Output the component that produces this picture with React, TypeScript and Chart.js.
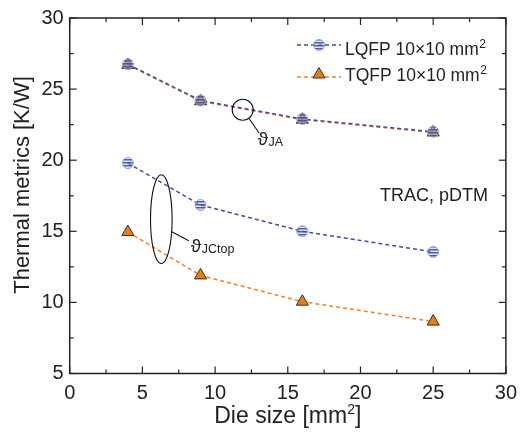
import React, { useEffect, useRef } from 'react';
import { Chart, registerables } from 'chart.js';
Chart.register(...registerables);

const dieSizes = [4, 9, 16, 25];
const lqfpJA = [26.75, 24.2, 22.9, 22.0];
const tqfpJA = [26.7, 24.15, 22.85, 21.95];
const lqfpJCtop = [19.8, 16.85, 15.0, 13.55];
const tqfpJCtop = [14.95, 11.9, 10.05, 8.65];
const seriesNames = ['LQFP 10×10 mm', 'TQFP 10×10 mm'];
const xTitle = 'Die size [mm';
const yTitle = 'Thermal metrics [K/W]';
const noteText = 'TRAC, pDTM';

const FONT = '"Liberation Sans", Arial, "DejaVu Sans", sans-serif';
const BLUE = '#3f4ea3';
const ORANGE = '#f5821f';
const TRI_FILL = '#f07d0a';
const TEXT = '#222';

function makePattern(): CanvasPattern | string {
  const c = document.createElement('canvas');
  c.width = 3; c.height = 3;
  const g = c.getContext('2d');
  if (!g) return BLUE;
  g.fillStyle = 'rgba(185,195,235,0.4)';
  g.fillRect(0, 0, 3, 3);
  g.fillStyle = 'rgba(60,78,170,0.9)';
  g.fillRect(0, 0, 3, 1.5);
  const p = g.createPattern(c, 'repeat');
  return p || BLUE;
}

const pts = (ys: number[]) => dieSizes.map((x, i) => ({ x, y: ys[i] }));

const decorPlugin = {
  id: 'decor',
  afterDraw(chart: any) {
    const { ctx, chartArea: a, scales } = chart;
    const xs = scales.x, ys = scales.y;
    ctx.save();
    ctx.strokeStyle = TEXT;
    ctx.lineWidth = 1.5;
    ctx.strokeRect(a.left, a.top, a.right - a.left, a.bottom - a.top);
    ctx.lineWidth = 1.2;
    const line = (x1: number, y1: number, x2: number, y2: number) => {
      ctx.beginPath(); ctx.moveTo(x1, y1); ctx.lineTo(x2, y2); ctx.stroke();
    };
    for (let v = 0; v <= 30; v += 2.5) {
      const px = xs.getPixelForValue(v);
      const len = v % 5 === 0 ? 7 : 4;
      line(px, a.bottom, px, a.bottom - len);
      line(px, a.top, px, a.top + len);
    }
    for (let v = 5; v <= 30; v += 2.5) {
      const py = ys.getPixelForValue(v);
      const len = v % 5 === 0 ? 7 : 4;
      line(a.left, py, a.left + len, py);
      line(a.right, py, a.right - len, py);
    }
    ctx.fillStyle = TEXT;
    ctx.textBaseline = 'alphabetic';
    ctx.font = `23px ${FONT}`;
    const w1 = ctx.measureText(xTitle).width;
    ctx.font = `14px ${FONT}`;
    const w2 = ctx.measureText('2').width;
    ctx.font = `23px ${FONT}`;
    const w3 = ctx.measureText(']').width;
    const cx = (a.left + a.right) / 2;
    const sx = cx - (w1 + w2 + w3) / 2;
    const by = 423;
    ctx.textAlign = 'left';
    ctx.fillText(xTitle, sx, by);
    ctx.font = `14px ${FONT}`;
    ctx.fillText('2', sx + w1, by - 9);
    ctx.font = `23px ${FONT}`;
    ctx.fillText(']', sx + w1 + w2, by);
    ctx.save();
    ctx.translate(29, 185);
    ctx.rotate(-Math.PI / 2);
    ctx.font = `22px ${FONT}`;
    ctx.textAlign = 'center';
    ctx.fillText(yTitle, 0, 0);
    ctx.restore();
    ctx.font = `18px ${FONT}`;
    ctx.textAlign = 'left';
    ctx.fillText(noteText, 380, 201);
    const legendRows = [
      { name: seriesNames[0], color: BLUE, y: 45, tb: 55, marker: 'circle' },
      { name: seriesNames[1], color: ORANGE, y: 77, tb: 81, marker: 'triangle' },
    ];
    legendRows.forEach((r) => {
      ctx.strokeStyle = r.color;
      ctx.lineWidth = 1.5;
      ctx.setLineDash([4, 3]);
      line(297, r.y, 341, r.y);
      ctx.setLineDash([]);
      if (r.marker === 'circle') {
        ctx.beginPath();
        ctx.arc(319, r.y, 5.5, 0, Math.PI * 2);
        ctx.fillStyle = (chart as any)._stripe || BLUE;
        ctx.fill();
        ctx.strokeStyle = 'rgba(150,160,215,0.9)';
        ctx.lineWidth = 1;
        ctx.stroke();
      } else {
        const R = 7, cy = r.y - 2.5;
        ctx.beginPath();
        ctx.moveTo(319, cy - R);
        ctx.lineTo(319 + R * Math.sin((2 * Math.PI) / 3), cy + R / 2);
        ctx.lineTo(319 - R * Math.sin((2 * Math.PI) / 3), cy + R / 2);
        ctx.closePath();
        ctx.fillStyle = TRI_FILL;
        ctx.fill();
        ctx.strokeStyle = '#333';
        ctx.lineWidth = 1;
        ctx.stroke();
      }
      ctx.fillStyle = TEXT;
      ctx.font = `17.5px ${FONT}`;
      ctx.fillText(r.name, 345, r.tb);
      const tw = ctx.measureText(r.name).width;
      ctx.font = `12px ${FONT}`;
      ctx.fillText('2', 345 + tw + 0.5, r.tb - 7);
    });
    ctx.strokeStyle = '#111';
    ctx.lineWidth = 1.1;
    const jx = xs.getPixelForValue(11.9), jy = ys.getPixelForValue(23.55);
    ctx.beginPath(); ctx.arc(jx, jy, 10.5, 0, Math.PI * 2); ctx.stroke();
    line(jx + 6.5, jy + 9, jx + 16.5, jy + 23.5);
    const ex = xs.getPixelForValue(6.3), ey = ys.getPixelForValue(15.85);
    ctx.beginPath(); ctx.ellipse(ex, ey, 10.8, 44.5, 0, 0, Math.PI * 2); ctx.stroke();
    line(ex + 10.5, ey + 12.5, ex + 27.5, ey + 21.5);
    ctx.fillStyle = TEXT;
    const sym = (x: number, y: number, sub: string) => {
      ctx.font = `19px ${FONT}`;
      ctx.fillText('ϑ', x, y);
      const w = ctx.measureText('ϑ').width;
      ctx.font = `12.5px ${FONT}`;
      ctx.fillText(sub, x + w + 0.5, y + 1);
    };
    sym(jx + 15, jy + 35, 'JA');
    sym(ex + 29.5, ey + 33, 'JCtop');
    ctx.restore();
  },
};

export default function App() {
  const ref = useRef<HTMLCanvasElement>(null);
  useEffect(() => {
    document.body.style.margin = '0';
    if (!ref.current) return;
    const stripe = makePattern();
    const common = { borderWidth: 1.5, borderDash: [4, 3], fill: false, tension: 0 };
    const lq = {
      ...common,
      borderColor: BLUE,
      pointStyle: 'circle',
      pointRadius: 5.5,
      pointBackgroundColor: stripe,
      pointBorderColor: 'rgba(150,160,215,0.9)',
      pointBorderWidth: 1,
    };
    const tq = {
      ...common,
      borderColor: ORANGE,
      pointStyle: 'triangle',
      pointRadius: 7,
      pointBackgroundColor: TRI_FILL,
      pointBorderColor: '#333',
      pointBorderWidth: 1,
    };
    const chart = new Chart(ref.current, {
      type: 'line',
      data: {
        datasets: [
          { ...lq, label: seriesNames[0], data: pts(lqfpJA) },
          { ...lq, label: seriesNames[0], data: pts(lqfpJCtop) },
          { ...tq, label: seriesNames[1], data: pts(tqfpJA) },
          { ...tq, label: seriesNames[1], data: pts(tqfpJCtop) },
        ] as any,
      },
      options: {
        animation: false,
        responsive: false,
        layout: { padding: { top: 16, right: 13.3, left: 0, bottom: 0 } },
        plugins: { legend: { display: false }, tooltip: { enabled: false } },
        scales: {
          x: {
            type: 'linear',
            min: 0,
            max: 30,
            grid: { display: false, drawTicks: false },
            border: { display: false },
            ticks: { stepSize: 5, padding: 8, color: TEXT, font: { family: FONT, size: 20 } },
            afterFit: (s: any) => { s.height = 60.5; },
          },
          y: {
            type: 'linear',
            min: 5,
            max: 30,
            grid: { display: false, drawTicks: false },
            border: { display: false },
            ticks: { stepSize: 5, padding: 6, color: TEXT, font: { family: FONT, size: 20 } },
            afterFit: (s: any) => { s.width = 69.7; },
          },
        },
      } as any,
      plugins: [decorPlugin],
    });
    (chart as any)._stripe = stripe;
    chart.draw();
    return () => chart.destroy();
  }, []);
  return (
    <div style={{ width: 525, height: 434 }}>
      <canvas ref={ref} width={525} height={434} />
    </div>
  );
}
